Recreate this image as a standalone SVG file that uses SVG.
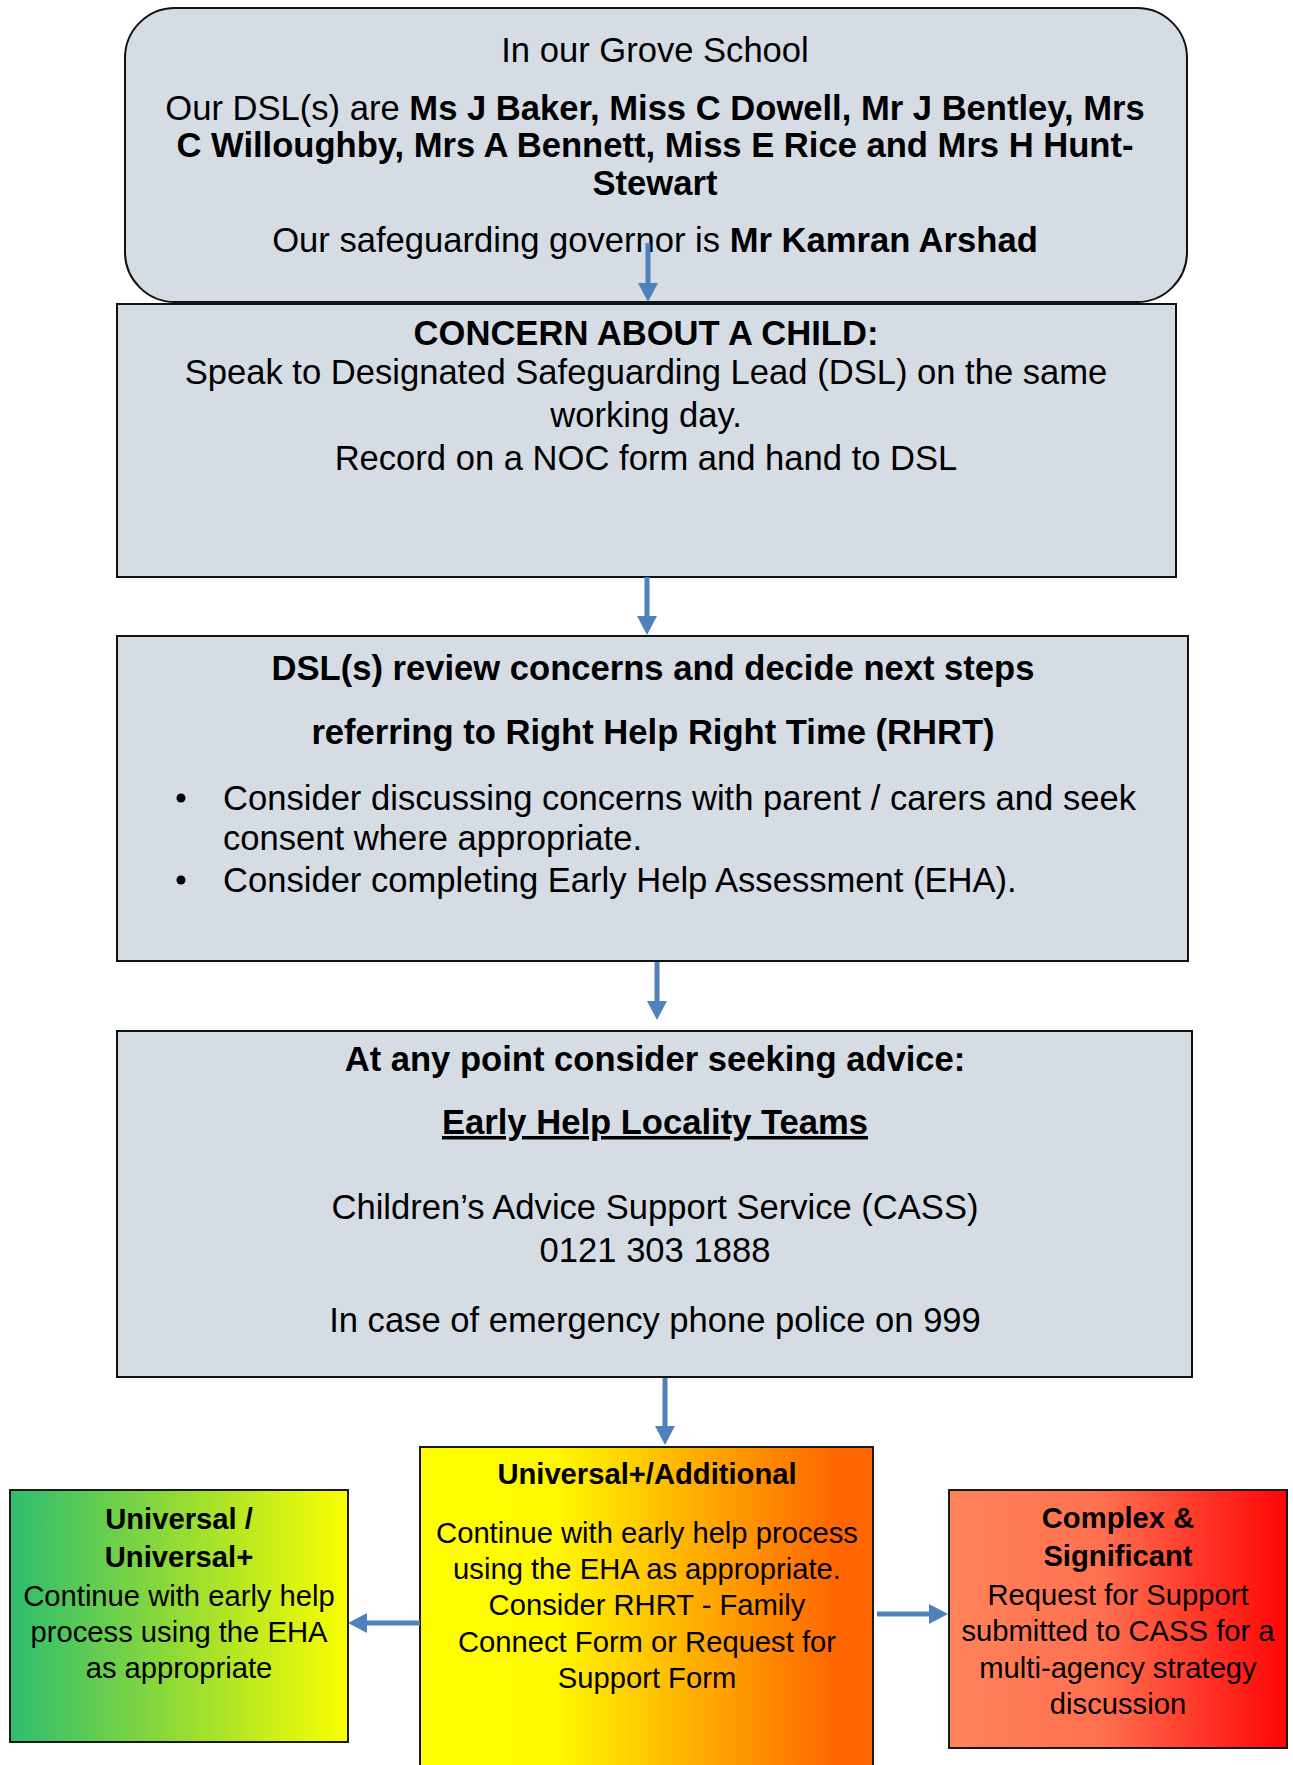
<svg xmlns="http://www.w3.org/2000/svg" width="1293" height="1765" viewBox="0 0 1293 1765">
<style>
.box{fill:#D6DCE4;stroke:#111;stroke-width:2}
.t{font-family:"Liberation Sans",Arial,sans-serif;font-size:34.6px;fill:#000}
.s{font-family:"Liberation Sans",Arial,sans-serif;font-size:29.2px;fill:#000}
.c{text-anchor:middle}
.b{font-weight:bold}
.arr{stroke:#4F81BD;stroke-width:5;fill:none}
.cb{stroke:#1a1a1a;stroke-width:2}
</style>
<defs>
<marker id="ah" markerUnits="userSpaceOnUse" markerWidth="20" markerHeight="22" refX="1" refY="11" orient="auto" viewBox="0 0 20 22">
<path d="M0,1 L19,11 L0,21 z" fill="#4F81BD"/>
</marker>
<linearGradient id="gGreen" x1="0" y1="0" x2="1" y2="0">
<stop offset="0" stop-color="#2EBD6F"/>
<stop offset="0.5" stop-color="#93DB35"/>
<stop offset="1" stop-color="#FAFF00"/>
</linearGradient>
<linearGradient id="gYellow" x1="0" y1="0" x2="1" y2="0">
<stop offset="0" stop-color="#FFFF00"/>
<stop offset="0.3" stop-color="#FFF800"/>
<stop offset="0.6" stop-color="#FFB000"/>
<stop offset="0.92" stop-color="#FF6600"/>
<stop offset="1" stop-color="#FF6600"/>
</linearGradient>
<linearGradient id="gRed" x1="0" y1="0" x2="1" y2="0">
<stop offset="0" stop-color="#FF835A"/>
<stop offset="0.45" stop-color="#FF7050"/>
<stop offset="1" stop-color="#FF0505"/>
</linearGradient>
</defs>

<g id="node-school">
<rect x="125" y="8" width="1062" height="294" rx="50" ry="50" class="box"/>
<text class="t c" x="655" y="62">In our Grove School</text>
<text class="t c" x="655" y="120">Our DSL(s) are <tspan class="b">Ms J Baker, Miss C Dowell, Mr J Bentley, Mrs</tspan></text>
<text class="t c b" x="655" y="157">C Willoughby, Mrs A Bennett, Miss E Rice and Mrs H Hunt-</text>
<text class="t c b" x="655" y="195">Stewart</text>
<text class="t c" x="655" y="252">Our safeguarding governor is <tspan class="b">Mr Kamran Arshad</tspan></text>
</g>

<g id="node-concern">
<rect x="117" y="304" width="1059" height="273" class="box"/>
<text class="t c b" x="646" y="345">CONCERN ABOUT A CHILD:</text>
<text class="t c" x="646" y="384">Speak to Designated Safeguarding Lead (DSL) on the same</text>
<text class="t c" x="646" y="427">working day.</text>
<text class="t c" x="646" y="470">Record on a NOC form and hand to DSL</text>
</g>

<g id="node-review">
<rect x="117" y="636" width="1071" height="325" class="box"/>
<text class="t c b" x="653" y="680">DSL(s) review concerns and decide next steps</text>
<text class="t c b" x="653" y="744">referring to Right Help Right Time (RHRT)</text>
<circle cx="181" cy="798" r="4.5" fill="#000"/>
<text class="t" x="223" y="810">Consider discussing concerns with parent / carers and seek</text>
<text class="t" x="223" y="850">consent where appropriate.</text>
<circle cx="181" cy="880" r="4.5" fill="#000"/>
<text class="t" x="223" y="892">Consider completing Early Help Assessment (EHA).</text>
</g>

<g id="node-advice">
<rect x="117" y="1031" width="1075" height="346" class="box"/>
<text class="t c b" x="655" y="1071">At any point consider seeking advice:</text>
<text class="t c b" x="655" y="1134" text-decoration="underline">Early Help Locality Teams</text>
<text class="t c" x="655" y="1219">Children’s Advice Support Service (CASS)</text>
<text class="t c" x="655" y="1262">0121 303 1888</text>
<text class="t c" x="655" y="1332">In case of emergency phone police on 999</text>
</g>

<g id="node-additional">
<rect x="420" y="1447" width="453" height="330" fill="url(#gYellow)" class="cb"/>
<text class="s c b" x="647" y="1484">Universal+/Additional</text>
<text class="s c" x="647" y="1543">Continue with early help process</text>
<text class="s c" x="647" y="1579">using the EHA as appropriate.</text>
<text class="s c" x="647" y="1615">Consider RHRT - Family</text>
<text class="s c" x="647" y="1652">Connect Form or Request for</text>
<text class="s c" x="647" y="1688">Support Form</text>
</g>

<g id="node-universal">
<rect x="10" y="1490" width="338" height="252" fill="url(#gGreen)" class="cb"/>
<text class="s c b" x="179" y="1529">Universal /</text>
<text class="s c b" x="179" y="1567">Universal+</text>
<text class="s c" x="179" y="1606">Continue with early help</text>
<text class="s c" x="179" y="1642">process using the EHA</text>
<text class="s c" x="179" y="1678">as appropriate</text>
</g>

<g id="node-complex">
<rect x="949" y="1490" width="338" height="258" fill="url(#gRed)" class="cb"/>
<text class="s c b" x="1118" y="1528">Complex &amp;</text>
<text class="s c b" x="1118" y="1566">Significant</text>
<text class="s c" x="1118" y="1605">Request for Support</text>
<text class="s c" x="1118" y="1641">submitted to CASS for a</text>
<text class="s c" x="1118" y="1678">multi-agency strategy</text>
<text class="s c" x="1118" y="1714">discussion</text>
</g>

<g id="connectors">
<line class="arr" x1="648" y1="243" x2="648" y2="284" marker-end="url(#ah)"/>
<line class="arr" x1="647" y1="577" x2="647" y2="617" marker-end="url(#ah)"/>
<line class="arr" x1="657" y1="962" x2="657" y2="1002" marker-end="url(#ah)"/>
<line class="arr" x1="665" y1="1378" x2="665" y2="1427" marker-end="url(#ah)"/>
<line class="arr" x1="420" y1="1623" x2="366" y2="1623" marker-end="url(#ah)"/>
<line class="arr" x1="877" y1="1614" x2="930" y2="1614" marker-end="url(#ah)"/>
</g>
</svg>
